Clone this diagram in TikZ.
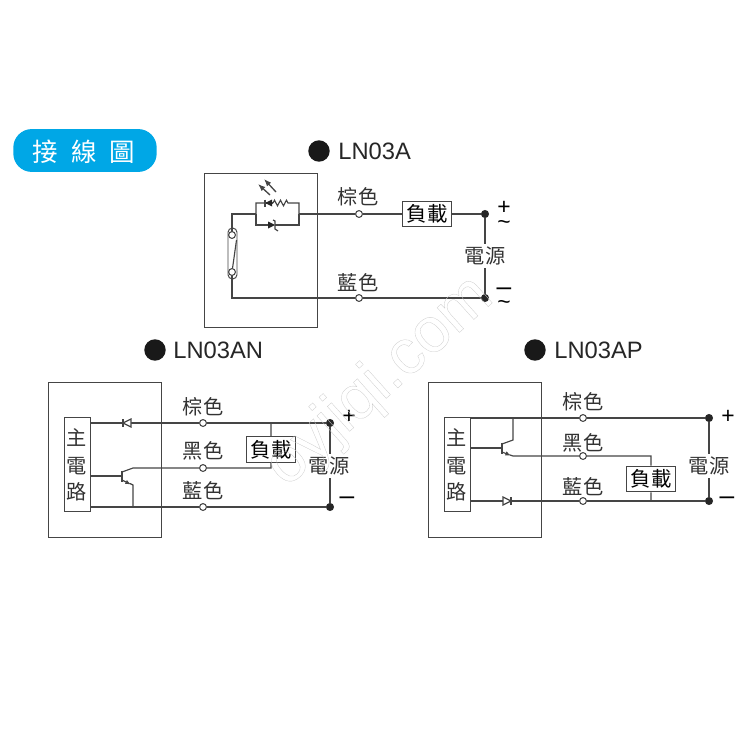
\documentclass[tikz,border=0pt]{standalone}
\usepackage{fontspec}
\setmainfont{Liberation Sans}
\newfontfamily\cjk{Noto Sans CJK TC}
\usetikzlibrary{calc}
\usetikzlibrary{arrows.meta}
\usetikzlibrary{decorations.pathmorphing}
\definecolor{pillblue}{HTML}{00A7E6}
\definecolor{wirecol}{HTML}{454545}
\tikzset{
  wire/.style={draw=wirecol, line width=.65pt},
  tip/.style={-{Latex[length=3.2pt,width=2.6pt]}},
  bigtip/.style={-{Latex[length=4.2pt,width=3.2pt]}},
  term/.style={circle, draw=wirecol, fill=white, line width=.6pt, inner sep=0pt, minimum size=3.9pt},
  junct/.style={circle, fill=black!85, inner sep=0pt, minimum size=4.6pt},
  load/.style={draw=wirecol, fill=white, line width=.6pt, inner sep=0pt, minimum width=28.4pt, minimum height=14.6pt, font=\cjk\fontsize{11.6}{11.6}\selectfont},
  lbl/.style={inner sep=0pt, font=\cjk\fontsize{11.5}{12}\selectfont, text=black!80},
  sign/.style={inner sep=0pt, font=\fontsize{13}{13}\selectfont},
  dashsign/.style={inner sep=0pt, font=\fontsize{15}{15}\selectfont},
  model/.style={inner sep=0pt, anchor=west, font=\fontsize{13.5}{13.5}\selectfont, text=black!85},
  bullet/.style={circle, fill=black!90, inner sep=0pt, minimum size=12.2pt},
  unit/.style={draw=wirecol, line width=.55pt},
  mainbox/.style={draw=wirecol, line width=.6pt, fill=white, minimum width=15.3pt, minimum height=53.9pt, inner sep=0pt},
  wmark/.style={inner sep=0pt, rotate=42, font=\fontsize{36}{36}\selectfont}
}
\begin{document}
\begin{tikzpicture}[x=.02cm, y=-.02cm]
\useasboundingbox (0,0) rectangle (750,750);

% title
\node[fill=pillblue, rounded corners=10.5pt, minimum width=81.6pt, minimum height=24.4pt, inner sep=0pt] (pill) at (85,150.5) {};
\foreach \x/\s in {45/接, 84/線, 122/圖} \node[inner sep=0pt, text=white, font=\cjk\fontsize{14.5}{15}\selectfont] (pill\x) at (\x,152) {\s};

% LN03A
\node[bullet] (bulA) at (319,151) {};
\node[model] (nameA) at (338,151) {LN03A};
\draw[unit] (204,173) rectangle (317,327);
\node[term] (tA1) at (359,214) {};
\node[term] (tA2) at (359,298) {};
\node[load] (loadA) at (427,214) {負載};
\node[junct] (dA1) at (485,214) {};
\node[junct] (dA2) at (485,298) {};
\node[lbl] (lA1) at (358,197) {棕色};
\node[lbl] (lA2) at (358,283) {藍色};
\coordinate (swT) at (232,235);
\coordinate (swB) at (232,272);
\coordinate (parL) at (256,214);
\coordinate (parR) at (299,214);
\draw[wire] (swT) -- (232,214) -- (parL) (parR) -- (tA1) -- (loadA) -- (dA1);
\draw[wire] (swB) -- (232,298) -- (tA2) -- (dA2);
\draw[wire] (dA1) -- (dA2);
\draw[wire] (parL) |- (265,203) (273,203) decorate[decoration={zigzag, segment length=3.4pt, amplitude=1.6pt}] {-- (288,203)} -| (parR);
\draw[wire] (parL) |- (268,225) (275,225) -| (parR);
\draw[wire] (265,203) -- (273,203);
\fill[black!85] (265,203) -- (272,199.5) -- (272,206.5) -- cycle;
\draw[wire] (265,199.5) -- (265,206.5);
\fill[black!85] (275,225) -- (268,221.5) -- (268,228.5) -- cycle;
\draw[wire] (273,220) -- (275,221) -- (275,229) -- (278,231);
\draw[wire, line width=.75pt, bigtip] (270,195) -- (258,184);
\draw[wire, line width=.75pt, bigtip] (276,192) -- (264,179);
\draw[unit, rounded corners=2.5pt] (228,228) rectangle (237,279);
\node[term] (swAt) at (swT) {};
\node[term] (swAb) at (swB) {};
\draw[wire] (swAb) -- (236.5,240);
\node[lbl, fill=white, inner ysep=1.5pt] (srcA) at (485,256) {電源};
\node[sign] (pA) at (504,208) {+};
\node[sign] (aA1) at (504,225) {\textasciitilde};
\node[dashsign] (mA) at (504,292) {–};
\node[sign] (aA2) at (504,305) {\textasciitilde};

% LN03AN
\node[bullet] (bulN) at (155,350) {};
\node[model] (nameN) at (173,350) {LN03AN};
\draw[unit] (48,382) rectangle (161,537);
\node[mainbox] (mainN) at (77.5,464.5) {};
\foreach \y/\s in {438/主, 466/電, 492/路} \node[lbl] (mainN\y) at (77,\y) {\s};
\node[term] (tN1) at (203,423) {};
\node[term] (tN2) at (203,468) {};
\node[term] (tN3) at (203,507) {};
\node[load] (loadN) at (271,449.5) {負載};
\node[junct] (dN1) at (330,423) {};
\node[junct] (dN2) at (330,507) {};
\node[lbl] (lN1) at (203,407) {棕色};
\node[lbl] (lN2) at (203,451) {黑色};
\node[lbl] (lN3) at (203,491) {藍色};
\coordinate (sN) at (271,423);
\coordinate (eN) at (271,468);
\coordinate (cN) at (133,468);
\coordinate (gN) at (133,507);
\draw[wire] (91,423) -- (tN1) -- (dN1) -- (dN2) -- (tN3) -- (91,507);
\draw[wire] (sN) -- (loadN) -- (eN) -- (tN2) -- (cN) -- (122,472);
\draw[wire] (91,476) -- (122,476);
\draw[wire, tip] (122,480) -- (131,484.5);
\draw[wire] (130,483.5) -- (133,485) -- (gN);
\draw[wire, line width=.8pt] (122,470.5) -- (122,481.5);
\draw[wire, fill=white] (123,423) -- (131,419) -- (131,427) -- cycle;
\draw[wire, line width=.8pt] (123,419) -- (123,427);
\node[lbl, fill=white, inner ysep=1.5pt] (srcN) at (329,466) {電源};
\node[sign] (pN) at (349,417) {+};
\node[dashsign] (mN) at (347,501) {–};

% LN03AP
\node[bullet] (bulP) at (535,350) {};
\node[model] (nameP) at (554,350) {LN03AP};
\draw[unit] (428,382) rectangle (541,537);
\node[mainbox] (mainP) at (457.5,464.5) {};
\foreach \y/\s in {438/主, 466/電, 492/路} \node[lbl] (mainP\y) at (457,\y) {\s};
\node[term] (tP1) at (583,418) {};
\node[term] (tP2) at (583,456) {};
\node[term] (tP3) at (583,501) {};
\node[load] (loadP) at (651,479) {負載};
\node[junct] (dP1) at (709,418) {};
\node[junct] (dP2) at (709,501) {};
\node[lbl] (lP1) at (583,402) {棕色};
\node[lbl] (lP2) at (583,443) {黑色};
\node[lbl] (lP3) at (583,487) {藍色};
\coordinate (cP) at (513,418);
\coordinate (eP) at (513,456);
\coordinate (nP) at (651,456);
\coordinate (sP) at (651,501);
\draw[wire] (471,418) -- (tP1) -- (dP1) -- (dP2) -- (tP3) -- (471,501);
\draw[wire] (cP) -- (513,440) -- (502,444);
\draw[wire] (471,448) -- (502,448);
\draw[wire, tip] (502,452) -- (511,455.5);
\draw[wire] (510,455) -- (eP) -- (tP2) -- (nP) -- (loadP) -- (sP);
\draw[wire, line width=.8pt] (502,442.5) -- (502,453.5);
\draw[wire, fill=white] (511,501) -- (503,497) -- (503,505) -- cycle;
\draw[wire, line width=.8pt] (511,497) -- (511,505);
\node[lbl, fill=white, inner ysep=1.5pt] (srcP) at (709,466) {電源};
\node[sign] (pP) at (728,417) {+};
\node[dashsign] (mP) at (727,501) {–};

% watermark
\node[wmark] (water) at (380,382) {\special{pdf:code q 1 Tr 0.18 w 0.8 G}oyjiqi.com\special{pdf:code Q}};
\end{tikzpicture}
\end{document}
